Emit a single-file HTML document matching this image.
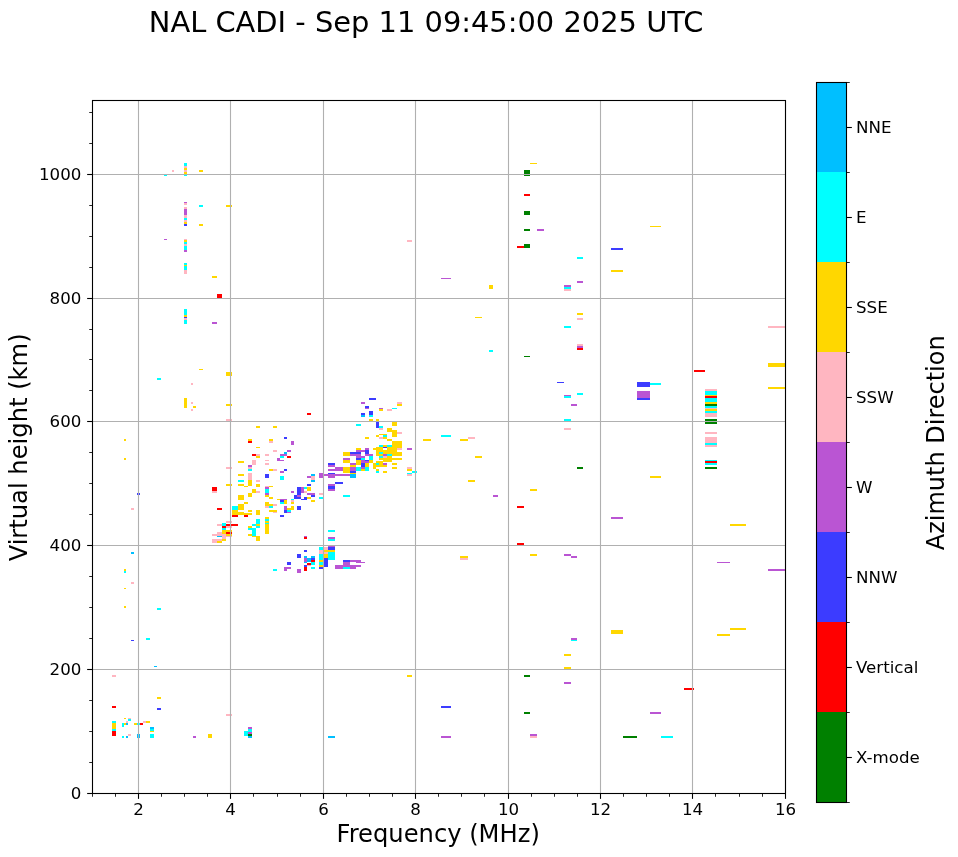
<!DOCTYPE html>
<html lang="en"><head><meta charset="utf-8"><title>NAL CADI - Sep 11 09:45:00 2025 UTC</title>
<style>html,body{margin:0;padding:0;background:#fff}body{width:958px;height:857px;overflow:hidden}svg{display:block}text{font-family:"DejaVu Sans","Liberation Sans",sans-serif;fill:#000}</style></head><body>
<svg width="958" height="857" viewBox="0 0 958 857">
<rect width="958" height="857" fill="#fff"/>
<g id="echoes" shape-rendering="crispEdges">
<rect x="184" y="163" width="3" height="3" fill="#00ffff"/>
<rect x="184" y="166" width="3" height="2" fill="#ffb6c1"/>
<rect x="184" y="168" width="3" height="2" fill="#ffd700"/>
<rect x="184" y="170" width="3" height="2" fill="#ffb6c1"/>
<rect x="184" y="172" width="3" height="2" fill="#ffd700"/>
<rect x="184" y="175" width="3" height="1" fill="#00ffff"/>
<rect x="172" y="170" width="2" height="2" fill="#ffb6c1"/>
<rect x="164" y="175" width="3" height="1" fill="#00ffff"/>
<rect x="199" y="170" width="4" height="2" fill="#ffd700"/>
<rect x="184" y="202" width="3" height="1" fill="#ba55d3"/>
<rect x="184" y="203" width="3" height="2" fill="#ffb6c1"/>
<rect x="184" y="207" width="3" height="2" fill="#ffb6c1"/>
<rect x="184" y="209" width="3" height="6" fill="#ba55d3"/>
<rect x="184" y="215" width="3" height="3" fill="#ffb6c1"/>
<rect x="184" y="218" width="3" height="2" fill="#00ffff"/>
<rect x="184" y="220" width="3" height="2" fill="#ffb6c1"/>
<rect x="184" y="222" width="3" height="2" fill="#ffd700"/>
<rect x="184" y="224" width="3" height="2" fill="#3c3cff"/>
<rect x="199" y="205" width="4" height="2" fill="#00ffff"/>
<rect x="226" y="205" width="6" height="2" fill="#ffd700"/>
<rect x="199" y="224" width="4" height="2" fill="#ffd700"/>
<rect x="164" y="239" width="3" height="1" fill="#ba55d3"/>
<rect x="184" y="239" width="3" height="1" fill="#ffb6c1"/>
<rect x="184" y="240" width="3" height="2" fill="#ffd700"/>
<rect x="184" y="242" width="3" height="2" fill="#00ffff"/>
<rect x="184" y="244" width="3" height="2" fill="#ffb6c1"/>
<rect x="184" y="246" width="3" height="4" fill="#00ffff"/>
<rect x="184" y="250" width="3" height="2" fill="#ba55d3"/>
<rect x="184" y="263" width="3" height="2" fill="#00ffff"/>
<rect x="184" y="265" width="3" height="1" fill="#ffd700"/>
<rect x="184" y="266" width="3" height="4" fill="#00ffff"/>
<rect x="184" y="270" width="3" height="4" fill="#ffb6c1"/>
<rect x="212" y="276" width="5" height="2" fill="#ffd700"/>
<rect x="217" y="294" width="5" height="4" fill="#ff0000"/>
<rect x="184" y="309" width="3" height="6" fill="#00ffff"/>
<rect x="184" y="315" width="3" height="2" fill="#ffd700"/>
<rect x="184" y="317" width="3" height="1" fill="#3c3cff"/>
<rect x="184" y="318" width="3" height="2" fill="#ffb6c1"/>
<rect x="184" y="320" width="3" height="4" fill="#00ffff"/>
<rect x="212" y="322" width="5" height="2" fill="#ba55d3"/>
<rect x="199" y="369" width="4" height="1" fill="#ffd700"/>
<rect x="226" y="372" width="6" height="4" fill="#ffd700"/>
<rect x="157" y="378" width="4" height="2" fill="#00ffff"/>
<rect x="191" y="383" width="2" height="2" fill="#ffb6c1"/>
<rect x="184" y="398" width="3" height="10" fill="#ffd700"/>
<rect x="191" y="402" width="2" height="2" fill="#ffb6c1"/>
<rect x="193" y="406" width="3" height="2" fill="#ffd700"/>
<rect x="191" y="409" width="2" height="2" fill="#ffb6c1"/>
<rect x="226" y="404" width="6" height="2" fill="#ffd700"/>
<rect x="226" y="419" width="6" height="2" fill="#ffb6c1"/>
<rect x="124" y="439" width="2" height="2" fill="#ffd700"/>
<rect x="124" y="458" width="2" height="2" fill="#ffd700"/>
<rect x="137" y="493" width="3" height="2" fill="#3c3cff"/>
<rect x="131" y="508" width="3" height="2" fill="#ffb6c1"/>
<rect x="131" y="552" width="3" height="2" fill="#00bfff"/>
<rect x="124" y="569" width="2" height="2" fill="#ffd700"/>
<rect x="124" y="571" width="2" height="2" fill="#00ffff"/>
<rect x="131" y="582" width="3" height="2" fill="#ffb6c1"/>
<rect x="124" y="588" width="2" height="1" fill="#ffd700"/>
<rect x="124" y="606" width="2" height="2" fill="#ffd700"/>
<rect x="157" y="608" width="4" height="2" fill="#00ffff"/>
<rect x="146" y="638" width="4" height="2" fill="#00ffff"/>
<rect x="131" y="640" width="3" height="1" fill="#3c3cff"/>
<rect x="154" y="666" width="3" height="1" fill="#00bfff"/>
<rect x="112" y="675" width="4" height="2" fill="#ffb6c1"/>
<rect x="112" y="706" width="4" height="2" fill="#ff0000"/>
<rect x="157" y="697" width="4" height="2" fill="#ffd700"/>
<rect x="157" y="708" width="4" height="2" fill="#3c3cff"/>
<rect x="226" y="714" width="6" height="2" fill="#ffb6c1"/>
<rect x="124" y="718" width="2" height="1" fill="#ffd700"/>
<rect x="128" y="718" width="3" height="1" fill="#ffb6c1"/>
<rect x="128" y="719" width="3" height="2" fill="#00ffff"/>
<rect x="112" y="721" width="4" height="2" fill="#00ffff"/>
<rect x="126" y="721" width="2" height="2" fill="#ffb6c1"/>
<rect x="143" y="721" width="3" height="2" fill="#ffb6c1"/>
<rect x="146" y="721" width="4" height="2" fill="#ffd700"/>
<rect x="112" y="723" width="4" height="6" fill="#ffd700"/>
<rect x="122" y="723" width="2" height="4" fill="#00ffff"/>
<rect x="124" y="723" width="2" height="2" fill="#ffd700"/>
<rect x="126" y="723" width="2" height="2" fill="#00bfff"/>
<rect x="134" y="723" width="3" height="2" fill="#ffd700"/>
<rect x="137" y="723" width="3" height="2" fill="#00ffff"/>
<rect x="140" y="723" width="3" height="2" fill="#ff0000"/>
<rect x="112" y="729" width="4" height="2" fill="#00ffff"/>
<rect x="112" y="731" width="4" height="5" fill="#ff0000"/>
<rect x="150" y="727" width="4" height="2" fill="#00bfff"/>
<rect x="150" y="729" width="4" height="2" fill="#00ffff"/>
<rect x="150" y="731" width="4" height="1" fill="#ffd700"/>
<rect x="150" y="734" width="4" height="4" fill="#00ffff"/>
<rect x="128" y="734" width="3" height="2" fill="#ffb6c1"/>
<rect x="122" y="736" width="2" height="2" fill="#00ffff"/>
<rect x="126" y="736" width="2" height="2" fill="#00bfff"/>
<rect x="137" y="734" width="3" height="4" fill="#00bfff"/>
<rect x="193" y="736" width="3" height="2" fill="#ba55d3"/>
<rect x="208" y="734" width="4" height="4" fill="#ffd700"/>
<rect x="226" y="404" width="6" height="2" fill="#ffd700"/>
<rect x="226" y="419" width="6" height="2" fill="#ffb6c1"/>
<rect x="307" y="413" width="4" height="2" fill="#ff0000"/>
<rect x="256" y="426" width="4" height="2" fill="#ffd700"/>
<rect x="273" y="426" width="4" height="2" fill="#ffd700"/>
<rect x="284" y="437" width="3" height="2" fill="#3c3cff"/>
<rect x="248" y="439" width="4" height="2" fill="#ffd700"/>
<rect x="248" y="441" width="4" height="2" fill="#ff0000"/>
<rect x="269" y="439" width="4" height="2" fill="#ffd700"/>
<rect x="269" y="441" width="4" height="2" fill="#ffb6c1"/>
<rect x="291" y="441" width="3" height="4" fill="#ba55d3"/>
<rect x="256" y="447" width="4" height="1" fill="#ffd700"/>
<rect x="273" y="450" width="4" height="2" fill="#ffb6c1"/>
<rect x="287" y="450" width="4" height="2" fill="#ba55d3"/>
<rect x="284" y="452" width="3" height="2" fill="#00bfff"/>
<rect x="252" y="454" width="4" height="2" fill="#ff0000"/>
<rect x="256" y="454" width="4" height="2" fill="#ffb6c1"/>
<rect x="265" y="454" width="4" height="2" fill="#ffb6c1"/>
<rect x="280" y="454" width="7" height="2" fill="#ba55d3"/>
<rect x="256" y="456" width="4" height="2" fill="#ffd700"/>
<rect x="280" y="456" width="4" height="2" fill="#00ffff"/>
<rect x="287" y="456" width="4" height="2" fill="#ff0000"/>
<rect x="277" y="458" width="3" height="3" fill="#ba55d3"/>
<rect x="280" y="460" width="4" height="1" fill="#ba55d3"/>
<rect x="265" y="460" width="4" height="1" fill="#ffb6c1"/>
<rect x="238" y="461" width="6" height="2" fill="#ffd700"/>
<rect x="252" y="460" width="4" height="5" fill="#ffb6c1"/>
<rect x="265" y="463" width="4" height="2" fill="#ffb6c1"/>
<rect x="248" y="465" width="4" height="2" fill="#ba55d3"/>
<rect x="248" y="467" width="4" height="2" fill="#ffb6c1"/>
<rect x="248" y="469" width="4" height="2" fill="#00ffff"/>
<rect x="226" y="467" width="6" height="2" fill="#ffb6c1"/>
<rect x="269" y="469" width="4" height="2" fill="#ffd700"/>
<rect x="273" y="469" width="4" height="2" fill="#ffb6c1"/>
<rect x="284" y="469" width="3" height="2" fill="#3c3cff"/>
<rect x="280" y="471" width="4" height="2" fill="#ba55d3"/>
<rect x="238" y="474" width="6" height="2" fill="#ffd700"/>
<rect x="248" y="473" width="4" height="7" fill="#ffb6c1"/>
<rect x="265" y="474" width="4" height="4" fill="#3c3cff"/>
<rect x="280" y="476" width="4" height="4" fill="#00ffff"/>
<rect x="311" y="474" width="4" height="2" fill="#00bfff"/>
<rect x="307" y="476" width="4" height="2" fill="#ba55d3"/>
<rect x="311" y="476" width="4" height="4" fill="#ffb6c1"/>
<rect x="311" y="480" width="4" height="2" fill="#00bfff"/>
<rect x="238" y="480" width="6" height="2" fill="#00ffff"/>
<rect x="248" y="480" width="4" height="6" fill="#ffd700"/>
<rect x="256" y="480" width="4" height="2" fill="#ffb6c1"/>
<rect x="226" y="484" width="6" height="2" fill="#ffd700"/>
<rect x="238" y="484" width="6" height="2" fill="#ffd700"/>
<rect x="244" y="486" width="4" height="1" fill="#ffd700"/>
<rect x="256" y="484" width="4" height="3" fill="#ffd700"/>
<rect x="307" y="484" width="4" height="2" fill="#3c3cff"/>
<rect x="265" y="486" width="4" height="1" fill="#ffb6c1"/>
<rect x="269" y="486" width="4" height="1" fill="#ffd700"/>
<rect x="265" y="487" width="4" height="2" fill="#ba55d3"/>
<rect x="265" y="489" width="4" height="4" fill="#00ffff"/>
<rect x="212" y="487" width="5" height="4" fill="#ff0000"/>
<rect x="212" y="491" width="5" height="2" fill="#ffb6c1"/>
<rect x="252" y="489" width="4" height="4" fill="#ffd700"/>
<rect x="256" y="491" width="4" height="2" fill="#ffb6c1"/>
<rect x="297" y="487" width="4" height="6" fill="#3c3cff"/>
<rect x="301" y="487" width="3" height="6" fill="#ba55d3"/>
<rect x="304" y="487" width="3" height="2" fill="#00ffff"/>
<rect x="307" y="487" width="4" height="4" fill="#ffd700"/>
<rect x="304" y="491" width="3" height="2" fill="#ffb6c1"/>
<rect x="291" y="491" width="3" height="2" fill="#ba55d3"/>
<rect x="248" y="493" width="4" height="4" fill="#ffd700"/>
<rect x="238" y="495" width="6" height="5" fill="#ffd700"/>
<rect x="265" y="493" width="4" height="2" fill="#ba55d3"/>
<rect x="265" y="495" width="4" height="2" fill="#ffd700"/>
<rect x="269" y="497" width="4" height="2" fill="#ffd700"/>
<rect x="297" y="493" width="4" height="2" fill="#3c3cff"/>
<rect x="307" y="493" width="8" height="2" fill="#ba55d3"/>
<rect x="311" y="495" width="4" height="2" fill="#3c3cff"/>
<rect x="294" y="495" width="7" height="4" fill="#3c3cff"/>
<rect x="297" y="495" width="4" height="2" fill="#ba55d3"/>
<rect x="301" y="499" width="3" height="1" fill="#3c3cff"/>
<rect x="304" y="497" width="3" height="3" fill="#3c3cff"/>
<rect x="307" y="497" width="4" height="2" fill="#ffd700"/>
<rect x="311" y="500" width="4" height="2" fill="#ffd700"/>
<rect x="277" y="499" width="3" height="1" fill="#ffd700"/>
<rect x="280" y="499" width="7" height="1" fill="#ba55d3"/>
<rect x="280" y="500" width="4" height="2" fill="#3c3cff"/>
<rect x="280" y="502" width="4" height="2" fill="#00ffff"/>
<rect x="284" y="500" width="3" height="4" fill="#ffd700"/>
<rect x="291" y="499" width="3" height="1" fill="#00ffff"/>
<rect x="291" y="500" width="3" height="2" fill="#ffb6c1"/>
<rect x="291" y="502" width="3" height="2" fill="#ffd700"/>
<rect x="244" y="502" width="4" height="2" fill="#ffd700"/>
<rect x="265" y="502" width="4" height="4" fill="#ffd700"/>
<rect x="269" y="504" width="4" height="2" fill="#ffd700"/>
<rect x="273" y="504" width="4" height="2" fill="#ffb6c1"/>
<rect x="265" y="506" width="4" height="2" fill="#ffb6c1"/>
<rect x="269" y="506" width="4" height="2" fill="#00ffff"/>
<rect x="238" y="504" width="6" height="6" fill="#ffd700"/>
<rect x="232" y="506" width="6" height="4" fill="#00ffff"/>
<rect x="284" y="506" width="3" height="4" fill="#ba55d3"/>
<rect x="291" y="506" width="3" height="4" fill="#ffd700"/>
<rect x="287" y="508" width="4" height="2" fill="#ffd700"/>
<rect x="297" y="506" width="4" height="4" fill="#3c3cff"/>
<rect x="217" y="508" width="5" height="2" fill="#ff0000"/>
<rect x="248" y="510" width="4" height="2" fill="#ffd700"/>
<rect x="256" y="510" width="4" height="5" fill="#ffd700"/>
<rect x="269" y="510" width="8" height="2" fill="#ffd700"/>
<rect x="273" y="512" width="4" height="1" fill="#ffb6c1"/>
<rect x="284" y="510" width="3" height="3" fill="#3c3cff"/>
<rect x="287" y="510" width="4" height="2" fill="#00ffff"/>
<rect x="287" y="512" width="4" height="1" fill="#ba55d3"/>
<rect x="232" y="510" width="6" height="5" fill="#ffd700"/>
<rect x="238" y="512" width="6" height="3" fill="#ffd700"/>
<rect x="244" y="513" width="8" height="2" fill="#ffd700"/>
<rect x="232" y="515" width="6" height="2" fill="#ff0000"/>
<rect x="244" y="515" width="4" height="2" fill="#ff0000"/>
<rect x="280" y="515" width="4" height="2" fill="#3c3cff"/>
<rect x="265" y="517" width="4" height="2" fill="#ffd700"/>
<rect x="265" y="519" width="4" height="2" fill="#00ffff"/>
<rect x="265" y="521" width="4" height="2" fill="#ffd700"/>
<rect x="265" y="523" width="4" height="1" fill="#00ffff"/>
<rect x="265" y="524" width="4" height="10" fill="#ffd700"/>
<rect x="256" y="519" width="4" height="5" fill="#00ffff"/>
<rect x="256" y="524" width="4" height="2" fill="#ffd700"/>
<rect x="252" y="524" width="4" height="2" fill="#00ffff"/>
<rect x="256" y="526" width="4" height="2" fill="#00ffff"/>
<rect x="248" y="526" width="4" height="2" fill="#ffd700"/>
<rect x="248" y="528" width="8" height="2" fill="#00ffff"/>
<rect x="252" y="530" width="4" height="6" fill="#00ffff"/>
<rect x="248" y="534" width="4" height="2" fill="#ffd700"/>
<rect x="252" y="536" width="4" height="1" fill="#ffd700"/>
<rect x="256" y="536" width="4" height="5" fill="#ffd700"/>
<rect x="226" y="521" width="6" height="2" fill="#ffb6c1"/>
<rect x="217" y="524" width="5" height="2" fill="#ffb6c1"/>
<rect x="222" y="523" width="4" height="3" fill="#00ffff"/>
<rect x="226" y="524" width="12" height="2" fill="#ff0000"/>
<rect x="222" y="526" width="4" height="2" fill="#ff0000"/>
<rect x="226" y="526" width="6" height="2" fill="#ffb6c1"/>
<rect x="222" y="528" width="4" height="2" fill="#00ffff"/>
<rect x="222" y="530" width="10" height="4" fill="#ffd700"/>
<rect x="226" y="532" width="6" height="2" fill="#ff0000"/>
<rect x="217" y="532" width="5" height="4" fill="#ffb6c1"/>
<rect x="212" y="534" width="5" height="2" fill="#ffb6c1"/>
<rect x="217" y="536" width="5" height="1" fill="#00bfff"/>
<rect x="222" y="534" width="4" height="5" fill="#ffb6c1"/>
<rect x="226" y="534" width="6" height="2" fill="#ffd700"/>
<rect x="226" y="536" width="6" height="1" fill="#ffb6c1"/>
<rect x="222" y="539" width="4" height="2" fill="#ffd700"/>
<rect x="212" y="539" width="10" height="4" fill="#ffb6c1"/>
<rect x="217" y="541" width="5" height="2" fill="#ffd700"/>
<rect x="304" y="536" width="3" height="1" fill="#ba55d3"/>
<rect x="304" y="537" width="3" height="2" fill="#ff0000"/>
<rect x="304" y="550" width="3" height="2" fill="#3c3cff"/>
<rect x="297" y="554" width="4" height="4" fill="#3c3cff"/>
<rect x="304" y="556" width="3" height="2" fill="#00bfff"/>
<rect x="311" y="556" width="4" height="2" fill="#00bfff"/>
<rect x="304" y="558" width="3" height="4" fill="#ba55d3"/>
<rect x="307" y="558" width="4" height="4" fill="#00bfff"/>
<rect x="311" y="558" width="4" height="2" fill="#3c3cff"/>
<rect x="311" y="560" width="4" height="2" fill="#ff0000"/>
<rect x="307" y="563" width="4" height="2" fill="#ff0000"/>
<rect x="311" y="562" width="4" height="3" fill="#00ffff"/>
<rect x="304" y="562" width="3" height="1" fill="#00bfff"/>
<rect x="287" y="562" width="4" height="3" fill="#3c3cff"/>
<rect x="304" y="565" width="3" height="2" fill="#3c3cff"/>
<rect x="307" y="565" width="4" height="1" fill="#ffb6c1"/>
<rect x="304" y="567" width="3" height="4" fill="#ff0000"/>
<rect x="311" y="567" width="4" height="2" fill="#00ffff"/>
<rect x="284" y="567" width="7" height="2" fill="#ba55d3"/>
<rect x="284" y="569" width="3" height="2" fill="#ba55d3"/>
<rect x="273" y="569" width="4" height="2" fill="#00ffff"/>
<rect x="297" y="569" width="4" height="4" fill="#ba55d3"/>
<rect x="369" y="398" width="7" height="2" fill="#3c3cff"/>
<rect x="361" y="402" width="4" height="2" fill="#ba55d3"/>
<rect x="365" y="406" width="4" height="2" fill="#3c3cff"/>
<rect x="365" y="408" width="4" height="1" fill="#ba55d3"/>
<rect x="397" y="402" width="5" height="2" fill="#ffb6c1"/>
<rect x="397" y="404" width="5" height="2" fill="#ffd700"/>
<rect x="379" y="408" width="4" height="1" fill="#ba55d3"/>
<rect x="379" y="409" width="4" height="2" fill="#ffd700"/>
<rect x="387" y="409" width="5" height="2" fill="#ffb6c1"/>
<rect x="392" y="408" width="5" height="1" fill="#00ffff"/>
<rect x="369" y="411" width="4" height="4" fill="#3c3cff"/>
<rect x="369" y="415" width="4" height="2" fill="#00ffff"/>
<rect x="361" y="413" width="4" height="2" fill="#3c3cff"/>
<rect x="361" y="415" width="4" height="2" fill="#00bfff"/>
<rect x="369" y="419" width="4" height="2" fill="#ffd700"/>
<rect x="376" y="419" width="3" height="2" fill="#ffd700"/>
<rect x="356" y="424" width="5" height="2" fill="#00ffff"/>
<rect x="376" y="422" width="3" height="6" fill="#3c3cff"/>
<rect x="379" y="426" width="4" height="2" fill="#00ffff"/>
<rect x="379" y="428" width="4" height="2" fill="#ffb6c1"/>
<rect x="392" y="422" width="5" height="4" fill="#ffd700"/>
<rect x="387" y="428" width="5" height="4" fill="#ffd700"/>
<rect x="392" y="430" width="5" height="7" fill="#ffd700"/>
<rect x="397" y="432" width="5" height="2" fill="#ffb6c1"/>
<rect x="376" y="435" width="3" height="2" fill="#ffd700"/>
<rect x="379" y="434" width="8" height="1" fill="#ffd700"/>
<rect x="383" y="435" width="4" height="2" fill="#00ffff"/>
<rect x="379" y="437" width="4" height="2" fill="#ffb6c1"/>
<rect x="383" y="437" width="4" height="2" fill="#ffd700"/>
<rect x="365" y="437" width="4" height="2" fill="#ffd700"/>
<rect x="387" y="439" width="5" height="2" fill="#ffd700"/>
<rect x="423" y="439" width="2" height="2" fill="#ffd700"/>
<rect x="392" y="441" width="10" height="7" fill="#ffd700"/>
<rect x="379" y="445" width="4" height="2" fill="#00ffff"/>
<rect x="383" y="445" width="4" height="2" fill="#ffd700"/>
<rect x="387" y="445" width="5" height="2" fill="#00ffff"/>
<rect x="383" y="447" width="4" height="1" fill="#3c3cff"/>
<rect x="373" y="448" width="3" height="2" fill="#ffd700"/>
<rect x="376" y="447" width="7" height="5" fill="#ffd700"/>
<rect x="387" y="447" width="10" height="5" fill="#ffd700"/>
<rect x="383" y="450" width="4" height="4" fill="#ffd700"/>
<rect x="397" y="448" width="5" height="2" fill="#ffb6c1"/>
<rect x="376" y="452" width="3" height="4" fill="#ffd700"/>
<rect x="379" y="452" width="4" height="2" fill="#00ffff"/>
<rect x="387" y="452" width="15" height="4" fill="#ffd700"/>
<rect x="383" y="454" width="4" height="2" fill="#ba55d3"/>
<rect x="387" y="454" width="5" height="2" fill="#00ffff"/>
<rect x="379" y="456" width="4" height="2" fill="#00ffff"/>
<rect x="383" y="456" width="4" height="2" fill="#ffb6c1"/>
<rect x="387" y="456" width="5" height="2" fill="#ffd700"/>
<rect x="379" y="458" width="23" height="2" fill="#ffd700"/>
<rect x="383" y="460" width="9" height="2" fill="#ffd700"/>
<rect x="376" y="461" width="7" height="2" fill="#ffd700"/>
<rect x="376" y="463" width="3" height="2" fill="#00ffff"/>
<rect x="379" y="463" width="4" height="2" fill="#ffd700"/>
<rect x="383" y="463" width="4" height="2" fill="#ba55d3"/>
<rect x="392" y="463" width="5" height="2" fill="#ffd700"/>
<rect x="373" y="463" width="3" height="6" fill="#ffd700"/>
<rect x="376" y="465" width="11" height="2" fill="#ffd700"/>
<rect x="392" y="467" width="5" height="2" fill="#ffd700"/>
<rect x="376" y="469" width="3" height="2" fill="#ffd700"/>
<rect x="376" y="471" width="3" height="2" fill="#00ffff"/>
<rect x="383" y="471" width="4" height="2" fill="#ffd700"/>
<rect x="407" y="448" width="5" height="2" fill="#ba55d3"/>
<rect x="407" y="467" width="5" height="2" fill="#ffb6c1"/>
<rect x="407" y="469" width="5" height="2" fill="#ffd700"/>
<rect x="412" y="471" width="5" height="2" fill="#00ffff"/>
<rect x="407" y="473" width="5" height="1" fill="#00ffff"/>
<rect x="407" y="474" width="5" height="2" fill="#ffb6c1"/>
<rect x="356" y="448" width="5" height="2" fill="#ffd700"/>
<rect x="365" y="448" width="4" height="2" fill="#ba55d3"/>
<rect x="365" y="450" width="4" height="4" fill="#3c3cff"/>
<rect x="356" y="450" width="9" height="2" fill="#ba55d3"/>
<rect x="350" y="452" width="11" height="2" fill="#3c3cff"/>
<rect x="350" y="454" width="11" height="2" fill="#ba55d3"/>
<rect x="343" y="452" width="7" height="4" fill="#ffd700"/>
<rect x="365" y="454" width="8" height="2" fill="#ba55d3"/>
<rect x="356" y="456" width="9" height="2" fill="#ba55d3"/>
<rect x="369" y="456" width="4" height="4" fill="#00ffff"/>
<rect x="356" y="458" width="5" height="2" fill="#3c3cff"/>
<rect x="361" y="458" width="4" height="2" fill="#00ffff"/>
<rect x="343" y="458" width="7" height="2" fill="#ba55d3"/>
<rect x="343" y="460" width="7" height="3" fill="#ffd700"/>
<rect x="361" y="460" width="8" height="3" fill="#ba55d3"/>
<rect x="365" y="460" width="4" height="1" fill="#3c3cff"/>
<rect x="356" y="460" width="5" height="5" fill="#ffd700"/>
<rect x="369" y="460" width="4" height="3" fill="#ffd700"/>
<rect x="361" y="463" width="4" height="4" fill="#3c3cff"/>
<rect x="365" y="463" width="4" height="4" fill="#ffd700"/>
<rect x="350" y="463" width="6" height="2" fill="#ba55d3"/>
<rect x="350" y="465" width="6" height="2" fill="#ffd700"/>
<rect x="328" y="463" width="7" height="2" fill="#3c3cff"/>
<rect x="328" y="465" width="7" height="2" fill="#ba55d3"/>
<rect x="335" y="467" width="8" height="4" fill="#ba55d3"/>
<rect x="328" y="469" width="7" height="2" fill="#ba55d3"/>
<rect x="343" y="467" width="7" height="6" fill="#ffd700"/>
<rect x="350" y="467" width="6" height="4" fill="#ba55d3"/>
<rect x="356" y="467" width="5" height="4" fill="#00ffff"/>
<rect x="361" y="467" width="4" height="2" fill="#ba55d3"/>
<rect x="361" y="469" width="4" height="2" fill="#ffd700"/>
<rect x="365" y="467" width="4" height="4" fill="#00ffff"/>
<rect x="350" y="471" width="6" height="2" fill="#3c3cff"/>
<rect x="319" y="473" width="4" height="5" fill="#ba55d3"/>
<rect x="328" y="473" width="7" height="1" fill="#3c3cff"/>
<rect x="323" y="474" width="27" height="2" fill="#ba55d3"/>
<rect x="328" y="476" width="7" height="2" fill="#ba55d3"/>
<rect x="350" y="473" width="6" height="1" fill="#ffd700"/>
<rect x="350" y="474" width="6" height="4" fill="#00bfff"/>
<rect x="335" y="482" width="8" height="2" fill="#3c3cff"/>
<rect x="328" y="484" width="7" height="2" fill="#ba55d3"/>
<rect x="328" y="486" width="7" height="3" fill="#3c3cff"/>
<rect x="328" y="489" width="7" height="2" fill="#ba55d3"/>
<rect x="379" y="454" width="4" height="2" fill="#ffd700"/>
<rect x="319" y="493" width="4" height="2" fill="#ffb6c1"/>
<rect x="319" y="497" width="4" height="2" fill="#00ffff"/>
<rect x="343" y="495" width="7" height="2" fill="#00ffff"/>
<rect x="328" y="530" width="7" height="2" fill="#00ffff"/>
<rect x="328" y="537" width="7" height="2" fill="#ba55d3"/>
<rect x="328" y="539" width="7" height="2" fill="#00ffff"/>
<rect x="328" y="546" width="7" height="1" fill="#ba55d3"/>
<rect x="328" y="547" width="7" height="3" fill="#3c3cff"/>
<rect x="328" y="550" width="7" height="2" fill="#ffd700"/>
<rect x="328" y="552" width="7" height="8" fill="#00ffff"/>
<rect x="319" y="547" width="4" height="3" fill="#00ffff"/>
<rect x="319" y="550" width="4" height="4" fill="#ffb6c1"/>
<rect x="319" y="554" width="4" height="6" fill="#00ffff"/>
<rect x="319" y="560" width="4" height="2" fill="#ffd700"/>
<rect x="319" y="562" width="4" height="3" fill="#00ffff"/>
<rect x="319" y="565" width="4" height="2" fill="#ffd700"/>
<rect x="319" y="567" width="4" height="2" fill="#3c3cff"/>
<rect x="324" y="547" width="4" height="3" fill="#ffb6c1"/>
<rect x="324" y="550" width="4" height="2" fill="#ffd700"/>
<rect x="324" y="552" width="4" height="2" fill="#ffb6c1"/>
<rect x="324" y="554" width="4" height="4" fill="#ffd700"/>
<rect x="324" y="558" width="4" height="9" fill="#3c3cff"/>
<rect x="343" y="560" width="7" height="2" fill="#3c3cff"/>
<rect x="350" y="560" width="11" height="2" fill="#ba55d3"/>
<rect x="356" y="562" width="9" height="1" fill="#ba55d3"/>
<rect x="343" y="562" width="7" height="3" fill="#ba55d3"/>
<rect x="335" y="565" width="26" height="2" fill="#ba55d3"/>
<rect x="335" y="567" width="8" height="2" fill="#ba55d3"/>
<rect x="343" y="567" width="7" height="2" fill="#00ffff"/>
<rect x="350" y="567" width="6" height="2" fill="#ba55d3"/>
<rect x="244" y="731" width="4" height="5" fill="#00ffff"/>
<rect x="248" y="727" width="4" height="2" fill="#ba55d3"/>
<rect x="248" y="729" width="4" height="3" fill="#00ffff"/>
<rect x="248" y="732" width="4" height="2" fill="#ba55d3"/>
<rect x="248" y="734" width="4" height="2" fill="#008000"/>
<rect x="248" y="736" width="4" height="2" fill="#00bfff"/>
<rect x="328" y="736" width="7" height="2" fill="#00bfff"/>
<rect x="407" y="240" width="5" height="2" fill="#ffb6c1"/>
<rect x="530" y="163" width="7" height="1" fill="#ffd700"/>
<rect x="524" y="170" width="6" height="6" fill="#008000"/>
<rect x="524" y="194" width="6" height="2" fill="#ff0000"/>
<rect x="524" y="211" width="6" height="4" fill="#008000"/>
<rect x="524" y="229" width="6" height="2" fill="#008000"/>
<rect x="537" y="229" width="7" height="2" fill="#ba55d3"/>
<rect x="517" y="246" width="7" height="2" fill="#ff0000"/>
<rect x="524" y="244" width="6" height="4" fill="#008000"/>
<rect x="441" y="278" width="10" height="1" fill="#ba55d3"/>
<rect x="489" y="285" width="4" height="4" fill="#ffd700"/>
<rect x="475" y="317" width="7" height="1" fill="#ffd700"/>
<rect x="489" y="350" width="4" height="2" fill="#00ffff"/>
<rect x="524" y="356" width="6" height="1" fill="#008000"/>
<rect x="557" y="382" width="7" height="1" fill="#3c3cff"/>
<rect x="423" y="439" width="8" height="2" fill="#ffd700"/>
<rect x="441" y="435" width="10" height="2" fill="#00ffff"/>
<rect x="460" y="439" width="8" height="2" fill="#ffd700"/>
<rect x="468" y="437" width="7" height="2" fill="#ffb6c1"/>
<rect x="475" y="456" width="7" height="2" fill="#ffd700"/>
<rect x="468" y="480" width="7" height="2" fill="#ffd700"/>
<rect x="493" y="495" width="5" height="2" fill="#ba55d3"/>
<rect x="530" y="489" width="7" height="2" fill="#ffd700"/>
<rect x="517" y="506" width="7" height="2" fill="#ff0000"/>
<rect x="517" y="543" width="7" height="2" fill="#ff0000"/>
<rect x="530" y="554" width="7" height="2" fill="#ffd700"/>
<rect x="460" y="556" width="8" height="2" fill="#ffd700"/>
<rect x="460" y="558" width="8" height="2" fill="#ffb6c1"/>
<rect x="407" y="675" width="5" height="2" fill="#ffd700"/>
<rect x="441" y="706" width="10" height="2" fill="#3c3cff"/>
<rect x="441" y="736" width="10" height="2" fill="#ba55d3"/>
<rect x="524" y="675" width="6" height="2" fill="#008000"/>
<rect x="524" y="712" width="6" height="2" fill="#008000"/>
<rect x="530" y="734" width="7" height="2" fill="#ba55d3"/>
<rect x="530" y="736" width="7" height="2" fill="#ffb6c1"/>
<rect x="650" y="226" width="11" height="1" fill="#ffd700"/>
<rect x="611" y="248" width="12" height="2" fill="#3c3cff"/>
<rect x="577" y="257" width="6" height="2" fill="#00ffff"/>
<rect x="611" y="270" width="12" height="2" fill="#ffd700"/>
<rect x="577" y="281" width="6" height="2" fill="#ba55d3"/>
<rect x="564" y="285" width="7" height="2" fill="#ba55d3"/>
<rect x="564" y="287" width="7" height="2" fill="#00ffff"/>
<rect x="564" y="289" width="7" height="2" fill="#ffb6c1"/>
<rect x="577" y="313" width="6" height="2" fill="#ffd700"/>
<rect x="577" y="318" width="6" height="2" fill="#ffb6c1"/>
<rect x="564" y="326" width="7" height="2" fill="#00ffff"/>
<rect x="577" y="344" width="6" height="2" fill="#ffb6c1"/>
<rect x="577" y="346" width="6" height="2" fill="#ba55d3"/>
<rect x="577" y="348" width="6" height="2" fill="#ff0000"/>
<rect x="694" y="370" width="11" height="2" fill="#ff0000"/>
<rect x="650" y="383" width="11" height="2" fill="#00ffff"/>
<rect x="637" y="382" width="13" height="5" fill="#3c3cff"/>
<rect x="650" y="383" width="11" height="2" fill="#00ffff"/>
<rect x="637" y="391" width="13" height="7" fill="#ba55d3"/>
<rect x="637" y="398" width="13" height="2" fill="#3c3cff"/>
<rect x="577" y="393" width="6" height="2" fill="#00ffff"/>
<rect x="564" y="395" width="7" height="1" fill="#ba55d3"/>
<rect x="564" y="396" width="7" height="2" fill="#00ffff"/>
<rect x="571" y="404" width="6" height="2" fill="#ba55d3"/>
<rect x="564" y="419" width="7" height="2" fill="#00ffff"/>
<rect x="564" y="428" width="7" height="2" fill="#ffb6c1"/>
<rect x="577" y="467" width="6" height="2" fill="#008000"/>
<rect x="650" y="476" width="11" height="2" fill="#ffd700"/>
<rect x="705" y="389" width="12" height="2" fill="#ffb6c1"/>
<rect x="705" y="391" width="12" height="4" fill="#00ffff"/>
<rect x="705" y="395" width="12" height="1" fill="#ffd700"/>
<rect x="705" y="396" width="12" height="2" fill="#ff0000"/>
<rect x="705" y="398" width="12" height="4" fill="#00ffff"/>
<rect x="705" y="402" width="12" height="2" fill="#ffd700"/>
<rect x="705" y="404" width="12" height="2" fill="#008000"/>
<rect x="705" y="406" width="12" height="2" fill="#00ffff"/>
<rect x="705" y="408" width="12" height="1" fill="#ffb6c1"/>
<rect x="705" y="409" width="12" height="2" fill="#ffd700"/>
<rect x="705" y="411" width="12" height="2" fill="#00ffff"/>
<rect x="705" y="413" width="12" height="4" fill="#ffb6c1"/>
<rect x="705" y="419" width="12" height="2" fill="#008000"/>
<rect x="705" y="422" width="12" height="2" fill="#008000"/>
<rect x="705" y="432" width="12" height="2" fill="#ffb6c1"/>
<rect x="705" y="437" width="12" height="6" fill="#ffb6c1"/>
<rect x="705" y="443" width="12" height="2" fill="#00ffff"/>
<rect x="705" y="445" width="12" height="2" fill="#ffb6c1"/>
<rect x="705" y="460" width="12" height="1" fill="#00ffff"/>
<rect x="705" y="461" width="12" height="2" fill="#ff0000"/>
<rect x="705" y="463" width="12" height="2" fill="#00ffff"/>
<rect x="705" y="467" width="12" height="2" fill="#008000"/>
<rect x="611" y="517" width="12" height="2" fill="#ba55d3"/>
<rect x="564" y="554" width="7" height="2" fill="#ba55d3"/>
<rect x="571" y="556" width="6" height="2" fill="#ba55d3"/>
<rect x="611" y="630" width="12" height="4" fill="#ffd700"/>
<rect x="571" y="638" width="6" height="2" fill="#ba55d3"/>
<rect x="571" y="640" width="6" height="1" fill="#00ffff"/>
<rect x="564" y="654" width="7" height="2" fill="#ffd700"/>
<rect x="564" y="667" width="7" height="2" fill="#ffd700"/>
<rect x="564" y="682" width="7" height="2" fill="#ba55d3"/>
<rect x="684" y="688" width="10" height="2" fill="#ff0000"/>
<rect x="650" y="712" width="11" height="2" fill="#ba55d3"/>
<rect x="623" y="736" width="14" height="2" fill="#008000"/>
<rect x="661" y="736" width="12" height="2" fill="#00ffff"/>
<rect x="768" y="326" width="17" height="2" fill="#ffb6c1"/>
<rect x="768" y="363" width="17" height="4" fill="#ffd700"/>
<rect x="768" y="387" width="17" height="2" fill="#ffd700"/>
<rect x="730" y="524" width="16" height="2" fill="#ffd700"/>
<rect x="717" y="562" width="13" height="1" fill="#ba55d3"/>
<rect x="768" y="569" width="17" height="2" fill="#ba55d3"/>
<rect x="730" y="628" width="16" height="2" fill="#ffd700"/>
<rect x="717" y="634" width="13" height="2" fill="#ffd700"/>
</g>
<g stroke="#b0b0b0" stroke-width="1.1" fill="none">
<line x1="138.50" y1="100.5" x2="138.50" y2="793.5"/>
<line x1="230.50" y1="100.5" x2="230.50" y2="793.5"/>
<line x1="323.50" y1="100.5" x2="323.50" y2="793.5"/>
<line x1="415.50" y1="100.5" x2="415.50" y2="793.5"/>
<line x1="508.50" y1="100.5" x2="508.50" y2="793.5"/>
<line x1="600.50" y1="100.5" x2="600.50" y2="793.5"/>
<line x1="692.50" y1="100.5" x2="692.50" y2="793.5"/>
<line x1="785.50" y1="100.5" x2="785.50" y2="793.5"/>
<line x1="92.5" y1="793.50" x2="785.5" y2="793.50"/>
<line x1="92.5" y1="669.50" x2="785.5" y2="669.50"/>
<line x1="92.5" y1="545.50" x2="785.5" y2="545.50"/>
<line x1="92.5" y1="421.50" x2="785.5" y2="421.50"/>
<line x1="92.5" y1="298.50" x2="785.5" y2="298.50"/>
<line x1="92.5" y1="174.50" x2="785.5" y2="174.50"/>
</g>
<g stroke="#000" fill="none">
<line x1="138.50" y1="793.5" x2="138.50" y2="798.86" stroke-width="1.1"/>
<line x1="230.50" y1="793.5" x2="230.50" y2="798.86" stroke-width="1.1"/>
<line x1="323.50" y1="793.5" x2="323.50" y2="798.86" stroke-width="1.1"/>
<line x1="415.50" y1="793.5" x2="415.50" y2="798.86" stroke-width="1.1"/>
<line x1="508.50" y1="793.5" x2="508.50" y2="798.86" stroke-width="1.1"/>
<line x1="600.50" y1="793.5" x2="600.50" y2="798.86" stroke-width="1.1"/>
<line x1="692.50" y1="793.5" x2="692.50" y2="798.86" stroke-width="1.1"/>
<line x1="785.50" y1="793.5" x2="785.50" y2="798.86" stroke-width="1.1"/>
<line x1="92.50" y1="793.5" x2="92.50" y2="796.78" stroke-width="0.85"/>
<line x1="115.50" y1="793.5" x2="115.50" y2="796.78" stroke-width="0.85"/>
<line x1="161.50" y1="793.5" x2="161.50" y2="796.78" stroke-width="0.85"/>
<line x1="184.50" y1="793.5" x2="184.50" y2="796.78" stroke-width="0.85"/>
<line x1="207.50" y1="793.5" x2="207.50" y2="796.78" stroke-width="0.85"/>
<line x1="253.50" y1="793.5" x2="253.50" y2="796.78" stroke-width="0.85"/>
<line x1="277.50" y1="793.5" x2="277.50" y2="796.78" stroke-width="0.85"/>
<line x1="300.50" y1="793.5" x2="300.50" y2="796.78" stroke-width="0.85"/>
<line x1="346.50" y1="793.5" x2="346.50" y2="796.78" stroke-width="0.85"/>
<line x1="369.50" y1="793.5" x2="369.50" y2="796.78" stroke-width="0.85"/>
<line x1="392.50" y1="793.5" x2="392.50" y2="796.78" stroke-width="0.85"/>
<line x1="438.50" y1="793.5" x2="438.50" y2="796.78" stroke-width="0.85"/>
<line x1="461.50" y1="793.5" x2="461.50" y2="796.78" stroke-width="0.85"/>
<line x1="484.50" y1="793.5" x2="484.50" y2="796.78" stroke-width="0.85"/>
<line x1="531.50" y1="793.5" x2="531.50" y2="796.78" stroke-width="0.85"/>
<line x1="554.50" y1="793.5" x2="554.50" y2="796.78" stroke-width="0.85"/>
<line x1="577.50" y1="793.5" x2="577.50" y2="796.78" stroke-width="0.85"/>
<line x1="623.50" y1="793.5" x2="623.50" y2="796.78" stroke-width="0.85"/>
<line x1="646.50" y1="793.5" x2="646.50" y2="796.78" stroke-width="0.85"/>
<line x1="669.50" y1="793.5" x2="669.50" y2="796.78" stroke-width="0.85"/>
<line x1="715.50" y1="793.5" x2="715.50" y2="796.78" stroke-width="0.85"/>
<line x1="739.50" y1="793.5" x2="739.50" y2="796.78" stroke-width="0.85"/>
<line x1="762.50" y1="793.5" x2="762.50" y2="796.78" stroke-width="0.85"/>
<line x1="92.5" y1="793.50" x2="87.14" y2="793.50" stroke-width="1.1"/>
<line x1="92.5" y1="669.50" x2="87.14" y2="669.50" stroke-width="1.1"/>
<line x1="92.5" y1="545.50" x2="87.14" y2="545.50" stroke-width="1.1"/>
<line x1="92.5" y1="421.50" x2="87.14" y2="421.50" stroke-width="1.1"/>
<line x1="92.5" y1="298.50" x2="87.14" y2="298.50" stroke-width="1.1"/>
<line x1="92.5" y1="174.50" x2="87.14" y2="174.50" stroke-width="1.1"/>
<line x1="92.5" y1="762.50" x2="89.22" y2="762.50" stroke-width="0.85"/>
<line x1="92.5" y1="731.50" x2="89.22" y2="731.50" stroke-width="0.85"/>
<line x1="92.5" y1="700.50" x2="89.22" y2="700.50" stroke-width="0.85"/>
<line x1="92.5" y1="638.50" x2="89.22" y2="638.50" stroke-width="0.85"/>
<line x1="92.5" y1="607.50" x2="89.22" y2="607.50" stroke-width="0.85"/>
<line x1="92.5" y1="576.50" x2="89.22" y2="576.50" stroke-width="0.85"/>
<line x1="92.5" y1="514.50" x2="89.22" y2="514.50" stroke-width="0.85"/>
<line x1="92.5" y1="483.50" x2="89.22" y2="483.50" stroke-width="0.85"/>
<line x1="92.5" y1="452.50" x2="89.22" y2="452.50" stroke-width="0.85"/>
<line x1="92.5" y1="390.50" x2="89.22" y2="390.50" stroke-width="0.85"/>
<line x1="92.5" y1="359.50" x2="89.22" y2="359.50" stroke-width="0.85"/>
<line x1="92.5" y1="329.50" x2="89.22" y2="329.50" stroke-width="0.85"/>
<line x1="92.5" y1="267.50" x2="89.22" y2="267.50" stroke-width="0.85"/>
<line x1="92.5" y1="236.50" x2="89.22" y2="236.50" stroke-width="0.85"/>
<line x1="92.5" y1="205.50" x2="89.22" y2="205.50" stroke-width="0.85"/>
<line x1="92.5" y1="143.50" x2="89.22" y2="143.50" stroke-width="0.85"/>
<line x1="92.5" y1="112.50" x2="89.22" y2="112.50" stroke-width="0.85"/>
</g>
<rect x="92.5" y="100.5" width="693.0" height="693.0" fill="none" stroke="#000" stroke-width="1.1"/>
<g font-size="16.67px">
<text x="138.50" y="815" text-anchor="middle">2</text>
<text x="230.50" y="815" text-anchor="middle">4</text>
<text x="323.50" y="815" text-anchor="middle">6</text>
<text x="415.50" y="815" text-anchor="middle">8</text>
<text x="508.50" y="815" text-anchor="middle">10</text>
<text x="600.50" y="815" text-anchor="middle">12</text>
<text x="692.50" y="815" text-anchor="middle">14</text>
<text x="785.50" y="815" text-anchor="middle">16</text>
<text x="81.4" y="798.80" text-anchor="end">0</text>
<text x="81.4" y="674.80" text-anchor="end">200</text>
<text x="81.4" y="550.80" text-anchor="end">400</text>
<text x="81.4" y="426.80" text-anchor="end">600</text>
<text x="81.4" y="303.80" text-anchor="end">800</text>
<text x="81.4" y="179.80" text-anchor="end">1000</text>
</g>
<text x="438.2" y="841.6" text-anchor="middle" font-size="24.2px">Frequency (MHz)</text>
<text transform="translate(27.1,447.4) rotate(-90)" text-anchor="middle" font-size="24.2px">Virtual height (km)</text>
<text x="426.1" y="32.3" text-anchor="middle" font-size="28.9px">NAL CADI - Sep 11 09:45:00 2025 UTC</text>
<g shape-rendering="crispEdges">
<rect x="816.5" y="82.00" width="30.00" height="90.50" fill="#00bfff"/>
<rect x="816.5" y="172.00" width="30.00" height="90.50" fill="#00ffff"/>
<rect x="816.5" y="262.00" width="30.00" height="90.50" fill="#ffd700"/>
<rect x="816.5" y="352.00" width="30.00" height="90.50" fill="#ffb6c1"/>
<rect x="816.5" y="442.00" width="30.00" height="90.50" fill="#ba55d3"/>
<rect x="816.5" y="532.00" width="30.00" height="90.50" fill="#3c3cff"/>
<rect x="816.5" y="622.00" width="30.00" height="90.50" fill="#ff0000"/>
<rect x="816.5" y="712.00" width="30.00" height="90.50" fill="#008000"/>
</g>
<rect x="816.5" y="82.5" width="30.00" height="720.00" fill="none" stroke="#000" stroke-width="1.1"/>
<g stroke="#000" fill="none">
<line x1="846.5" y1="82.50" x2="849.78" y2="82.50" stroke-width="0.85"/>
<line x1="846.5" y1="172.50" x2="849.78" y2="172.50" stroke-width="0.85"/>
<line x1="846.5" y1="262.50" x2="849.78" y2="262.50" stroke-width="0.85"/>
<line x1="846.5" y1="352.50" x2="849.78" y2="352.50" stroke-width="0.85"/>
<line x1="846.5" y1="442.50" x2="849.78" y2="442.50" stroke-width="0.85"/>
<line x1="846.5" y1="532.50" x2="849.78" y2="532.50" stroke-width="0.85"/>
<line x1="846.5" y1="622.50" x2="849.78" y2="622.50" stroke-width="0.85"/>
<line x1="846.5" y1="712.50" x2="849.78" y2="712.50" stroke-width="0.85"/>
<line x1="846.5" y1="802.50" x2="849.78" y2="802.50" stroke-width="0.85"/>
<line x1="846.5" y1="127.50" x2="851.86" y2="127.50" stroke-width="1.1"/>
<line x1="846.5" y1="217.50" x2="851.86" y2="217.50" stroke-width="1.1"/>
<line x1="846.5" y1="307.50" x2="851.86" y2="307.50" stroke-width="1.1"/>
<line x1="846.5" y1="397.50" x2="851.86" y2="397.50" stroke-width="1.1"/>
<line x1="846.5" y1="487.50" x2="851.86" y2="487.50" stroke-width="1.1"/>
<line x1="846.5" y1="577.50" x2="851.86" y2="577.50" stroke-width="1.1"/>
<line x1="846.5" y1="667.50" x2="851.86" y2="667.50" stroke-width="1.1"/>
<line x1="846.5" y1="757.50" x2="851.86" y2="757.50" stroke-width="1.1"/>
</g>
<g font-size="16.67px">
<text x="856" y="133.10">NNE</text>
<text x="856" y="223.10">E</text>
<text x="856" y="313.10">SSE</text>
<text x="856" y="403.10">SSW</text>
<text x="856" y="493.10">W</text>
<text x="856" y="583.10">NNW</text>
<text x="856" y="673.10">Vertical</text>
<text x="856" y="763.10">X-mode</text>
</g>
<text transform="translate(944.1,442.8) rotate(-90)" text-anchor="middle" font-size="24px">Azimuth Direction</text>
</svg></body></html>
